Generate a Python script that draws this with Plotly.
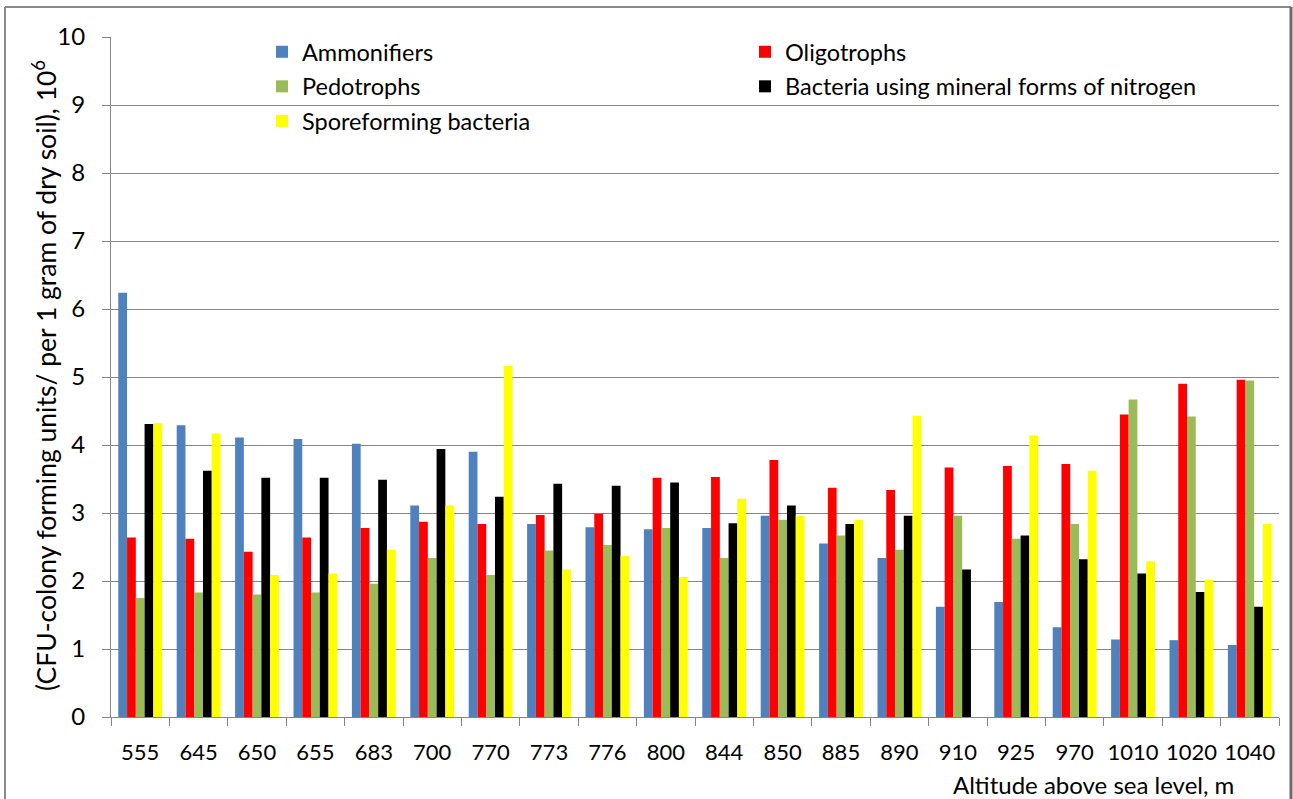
import plotly.graph_objects as go

altitudes = ["555", "645", "650", "655", "683", "700", "770", "773", "776", "800",
             "844", "850", "885", "890", "910", "925", "970", "1010", "1020", "1040"]

ammonifiers = [6.24, 4.29, 4.11, 4.09, 4.02, 3.11, 3.90, 2.84, 2.79, 2.76,
               2.78, 2.96, 2.55, 2.34, 1.62, 1.69, 1.32, 1.14, 1.13, 1.06]
oligotrophs = [2.64, 2.62, 2.43, 2.64, 2.78, 2.87, 2.84, 2.97, 2.99, 3.52,
               3.53, 3.78, 3.37, 3.34, 3.67, 3.69, 3.72, 4.45, 4.90, 4.96]
pedotrophs = [1.75, 1.83, 1.80, 1.83, 1.96, 2.34, 2.09, 2.45, 2.53, 2.78,
              2.34, 2.90, 2.67, 2.46, 2.96, 2.62, 2.84, 4.67, 4.42, 4.95]
mineral_n = [4.31, 3.62, 3.52, 3.52, 3.49, 3.94, 3.24, 3.43, 3.40, 3.45,
             2.85, 3.11, 2.84, 2.96, 2.17, 2.67, 2.32, 2.11, 1.84, 1.62]
sporeforming = [4.32, 4.17, 2.09, 2.11, 2.46, 3.11, 5.16, 2.17, 2.37, 2.06,
                3.21, 2.96, 2.90, 4.43, 0.0, 4.14, 3.62, 2.29, 2.02, 2.84]

series = [
    ("Ammonifiers", ammonifiers, "#4F81BD", "legend"),
    ("Oligotrophs", oligotrophs, "#FF0000", "legend2"),
    ("Pedotrophs", pedotrophs, "#9BBB59", "legend"),
    ("Bacteria using mineral forms of nitrogen", mineral_n, "#000000", "legend2"),
    ("Sporeforming bacteria", sporeforming, "#FFFF00", "legend"),
]

FONT = "Lato"
fig = go.Figure()
for name, vals, color, leg in series:
    fig.add_trace(go.Bar(
        x=altitudes, y=vals, name=name, marker_color=color,
        marker_line_width=0, legend=leg, legendgroup=name,
    ))

L, R, T, B = 111, 14, 37, 82
W, H = 1293, 799
pw = W - L - R
ph = H - T - B

def px_x(x):
    return (x - L) / pw

def px_y(y):
    return (H - B - y) / ph

fig.update_layout(
    width=W, height=H,
    margin=dict(l=L, r=R, t=T, b=B, autoexpand=False),
    paper_bgcolor="white", plot_bgcolor="white",
    font=dict(family=FONT, size=22, color="black"),
    barmode="group", bargap=0.25, bargroupgap=0,
    legend=dict(x=px_x(262), y=px_y(30), xanchor="left", yanchor="top",
                bgcolor="rgba(0,0,0,0)", tracegroupgap=1,
                font=dict(family=FONT, size=23.5)),
    legend2=dict(x=px_x(745), y=px_y(30), xanchor="left", yanchor="top",
                 bgcolor="rgba(0,0,0,0)", tracegroupgap=1,
                 font=dict(family=FONT, size=23.5)),
    xaxis=dict(
        type="category", showgrid=False, showline=True, linecolor="#868686",
        linewidth=1, ticks="outside", tickson="boundaries", ticklen=8,
        tickcolor="#868686", tickfont=dict(family=FONT, size=22), tickangle=0,
        automargin=False, ticklabelstandoff=16,
    ),
    yaxis=dict(
        range=[0, 10], dtick=1, showgrid=True, gridcolor="#868686", gridwidth=1,
        showline=True, linecolor="#868686", linewidth=1, ticks="outside",
        ticklen=8, tickcolor="#868686", zeroline=False, automargin=False,
        tickfont=dict(family=FONT, size=24), ticklabelstandoff=12,
    ),
    annotations=[
        dict(text="Altitude above sea level, m", xref="paper", yref="paper",
             x=px_x(1236), y=px_y(784), xanchor="right", yanchor="middle",
             showarrow=False, font=dict(family=FONT, size=24)),
        dict(text="(CFU-colony forming units/ per 1 gram of dry soil), 10<sup>6</sup>",
             xref="paper", yref="paper", x=px_x(44), y=px_y(376),
             xanchor="center", yanchor="middle", textangle=-90,
             showarrow=False, font=dict(family=FONT, size=26.5)),
    ],
    shapes=[
        dict(type="line", xref="paper", yref="paper", x0=px_x(5), x1=px_x(5),
             y0=px_y(7), y1=px_y(805), line=dict(color="#8a8a8a", width=2)),
        dict(type="line", xref="paper", yref="paper", x0=px_x(5), x1=px_x(1291),
             y0=px_y(7), y1=px_y(7), line=dict(color="#8a8a8a", width=2)),
        dict(type="line", xref="paper", yref="paper", x0=px_x(1291), x1=px_x(1291),
             y0=px_y(7), y1=px_y(805), line=dict(color="#6a6a6a", width=3)),
    ],
)

fig.write_html("out.html", config={"displayModeBar": False},
               post_script="document.body.style.margin='0';")
